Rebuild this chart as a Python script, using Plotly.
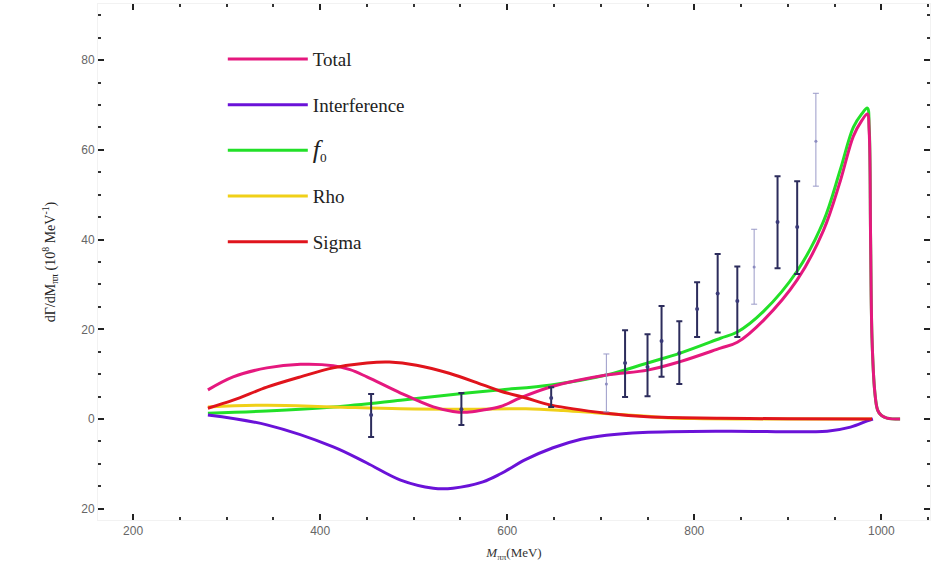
import plotly.graph_objects as go

# ---------------- data ----------------
total_m = [280, 307, 343, 379, 414, 432, 450, 486, 521, 542, 557, 574, 593, 614, 647, 706, 750, 785, 828,
           846, 874, 910, 938, 956, 970, 979, 985, 987, 988.5, 990, 993, 996, 1000, 1006, 1020]
total_v = [6.5, 9.4, 11.4, 12.2, 11.9, 11.0, 9.4, 5.8, 2.7, 1.7, 1.5, 2.0, 2.8, 4.7, 7.2, 9.8, 10.9, 12.8, 15.8,
           17.1, 22.0, 31.0, 42.0, 53.0, 63.0, 66.5, 68.0, 64.0, 40.0, 18.0, 6.0, 2.0, 0.8, 0.2, 0.0]

interf_m = [280, 343, 414, 450, 486, 521, 542, 574, 593, 620, 649, 679, 706, 745, 835, 942, 967, 985, 991]
interf_v = [0.9, -1.3, -6.2, -9.8, -13.6, -15.4, -15.4, -14.0, -12.2, -9.0, -6.4, -4.5, -3.6, -3.0, -2.7, -2.7,
            -1.8, -0.4, 0.0]

f0_m = [280, 343, 414, 486, 557, 593, 647, 706, 750, 785, 828, 846, 874, 910, 938, 956, 970, 979, 985, 987,
        988.5, 990, 993, 996, 1000, 1006, 1020]
f0_v = [1.3, 1.8, 2.7, 4.2, 5.8, 6.5, 7.6, 9.8, 12.5, 14.7, 18.0, 19.4, 24.0, 33.0, 44.0, 55.5, 65.0, 68.0, 69.3,
        65.0, 40.0, 18.0, 6.0, 2.0, 0.8, 0.2, 0.0]

rho_m = [280, 343, 414, 486, 557, 620, 660, 700, 750, 770, 800, 860, 930, 990]
rho_v = [2.7, 3.1, 2.7, 2.3, 2.2, 2.3, 1.9, 1.3, 0.6, 0.3, 0.1, 0.0, 0.0, 0.0]

sigma_m = [280, 307, 343, 379, 414, 450, 474, 503, 538, 574, 593, 620, 647, 706, 750, 828, 900, 990]
sigma_v = [2.4, 4.2, 7.1, 9.4, 11.4, 12.5, 12.7, 12.0, 10.2, 7.6, 6.2, 4.7, 3.1, 1.3, 0.5, 0.2, 0.05, 0.0]

# experimental points: mass, central value, upper edge, lower edge
exp_m = [454.5, 551, 647, 726, 750, 765, 784, 803, 825, 846, 889, 910]
exp_v = [0.9, 2.2, 4.7, 12.5, 11.6, 17.4, 14.7, 24.5, 28.0, 26.3, 43.9, 42.8]
exp_hi = [5.6, 5.8, 7.1, 19.8, 18.9, 25.2, 21.8, 30.5, 36.8, 34.0, 54.1, 53.0]
exp_lo = [-4.0, -1.3, 2.7, 4.9, 5.1, 9.4, 7.8, 18.3, 19.3, 18.3, 33.6, 32.3]

faint_m = [706, 864, 930]
faint_v = [7.8, 33.9, 61.9]
faint_hi = [14.5, 42.3, 72.6]
faint_lo = [1.6, 25.6, 51.9]

x_tick_vals = [200, 400, 600, 800, 1000]
x_tick_text = ["200", "400", "600", "800", "1000"]
y_tick_vals = [-20, 0, 20, 40, 60, 80]
y_tick_text = ["20", "0", "20", "40", "60", "80"]

# ---------------- figure ----------------
C_TOTAL = "#e5187e"
C_INTERF = "#6a12d8"
C_F0 = "#22e028"
C_RHO = "#f0d018"
C_SIGMA = "#e0141c"

fig = go.Figure()

def curve(x, y, name, color, rank):
    fig.add_trace(go.Scatter(
        x=x, y=y, mode="lines", name=name, legendrank=rank,
        line=dict(color=color, width=3, shape="spline", smoothing=1.0),
        legendgroup=name,
    ))

curve(f0_m, f0_v, "<span style='font-size:26px'><i>f</i></span><sub>0</sub>", C_F0, 3)
curve(rho_m, rho_v, "Rho", C_RHO, 4)
curve(interf_m, interf_v, "Interference", C_INTERF, 2)
curve(total_m, total_v, "Total", C_TOTAL, 1)
curve(sigma_m, sigma_v, "Sigma", C_SIGMA, 5)

fig.add_trace(go.Scatter(
    x=exp_m, y=exp_v, mode="markers", showlegend=False,
    marker=dict(color="#3a3a78", size=4),
    error_y=dict(type="data", symmetric=False,
                 array=[h - v for h, v in zip(exp_hi, exp_v)],
                 arrayminus=[v - l for l, v in zip(exp_lo, exp_v)],
                 color="#2c2c5c", thickness=2, width=3),
))
fig.add_trace(go.Scatter(
    x=faint_m, y=faint_v, mode="markers", showlegend=False,
    marker=dict(color="#8c8cc0", size=3),
    error_y=dict(type="data", symmetric=False,
                 array=[h - v for h, v in zip(faint_hi, faint_v)],
                 arrayminus=[v - l for l, v in zip(faint_lo, faint_v)],
                 color="#9a9ac8", thickness=1, width=3),
))

axis_common = dict(
    showgrid=False, zeroline=False, showline=True, linecolor="#f2f2f2", linewidth=1,
    mirror="ticks", ticks="inside", ticklen=6, tickwidth=1.5, tickcolor="#222222",
    tickfont=dict(family="Liberation Sans, Arial, sans-serif", size=12, color="#666666"),
)

fig.update_xaxes(
    range=[162.5, 1052], tickvals=x_tick_vals, ticktext=x_tick_text,
    minor=dict(dtick=50, tick0=200, ticks="inside", ticklen=3, tickwidth=1.5, tickcolor="#333333"),
    title=dict(text="<i>M</i><sub>ππ</sub>(MeV)", standoff=10,
               font=dict(family="Liberation Serif, Times New Roman, serif", size=13, color="#333333")),
    **axis_common,
)
fig.update_yaxes(
    range=[-22.5, 92.5], tickvals=y_tick_vals, ticktext=y_tick_text,
    minor=dict(dtick=5, tick0=0, ticks="inside", ticklen=3, tickwidth=1.5, tickcolor="#333333"),
    title=dict(text="dΓ/dM<sub>ππ</sub> (10<sup>8</sup> MeV<sup>-1</sup>)", standoff=22,
               font=dict(family="Liberation Serif, Times New Roman, serif", size=14, color="#222222")),
    **axis_common,
)

fig.update_layout(
    width=934, height=585,
    margin=dict(l=98, r=4, t=4, b=65),
    paper_bgcolor="white", plot_bgcolor="white",
    showlegend=True,
    legend=dict(
        x=0.15, y=0.93, xanchor="left", yanchor="top",
        font=dict(family="Liberation Serif, Times New Roman, serif", size=19, color="#222222"),
        tracegroupgap=18, itemwidth=80, bgcolor="rgba(0,0,0,0)",
    ),
)

fig.write_html("out.html")
